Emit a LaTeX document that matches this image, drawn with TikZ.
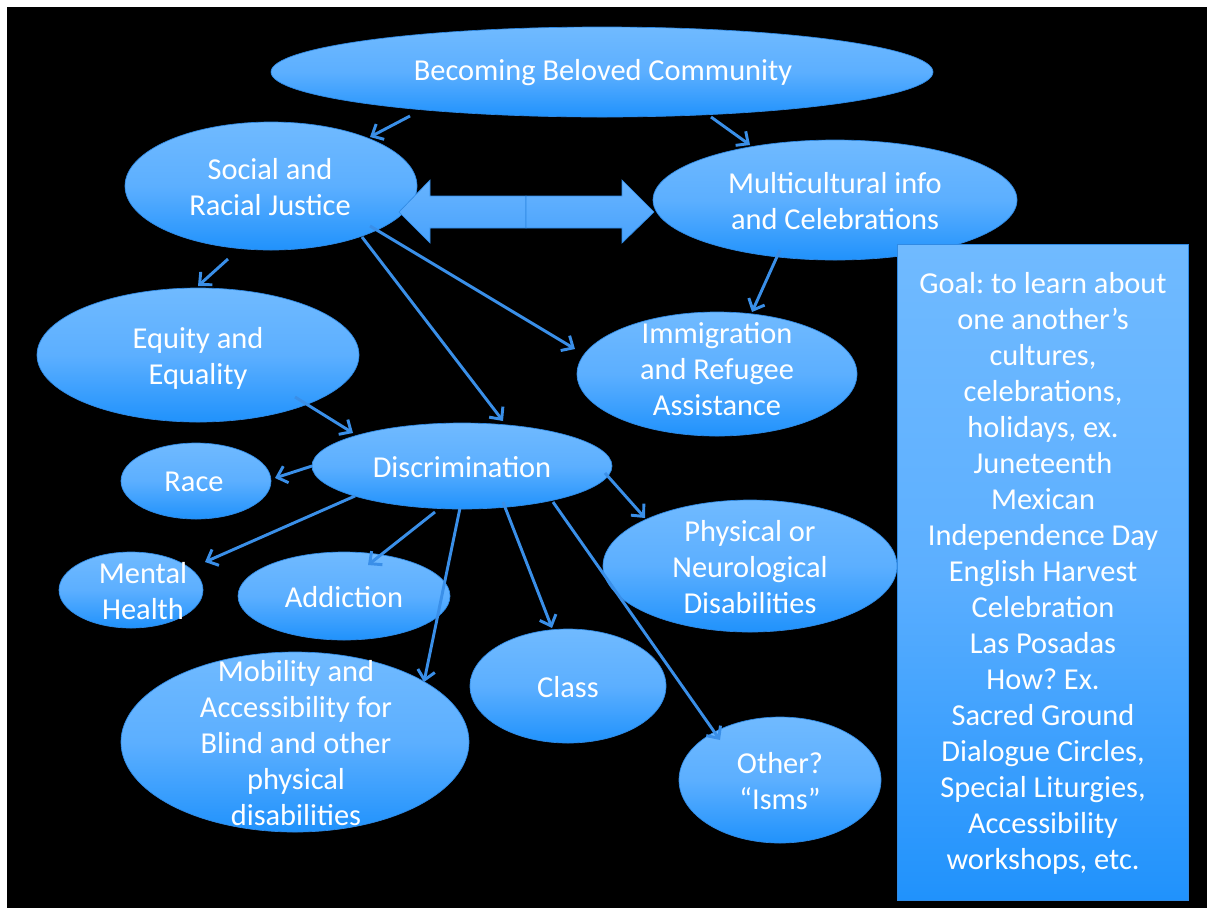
\documentclass[tikz,border=0pt]{standalone}
\usepackage{fontspec}
\setmainfont{Carlito}
\frenchspacing
\usetikzlibrary{arrows.meta,calc,shapes.geometric}
\definecolor{ltop}{RGB}{112,186,255}
\definecolor{lmid}{RGB}{92,175,255}
\definecolor{lbot}{RGB}{32,146,252}
\definecolor{edgeblue}{RGB}{48,138,228}
\definecolor{conncol}{RGB}{58,143,232}
\definecolor{atop}{RGB}{104,180,255}
\definecolor{abot}{RGB}{72,162,252}
\begin{document}
\begin{tikzpicture}[x=0.75pt,y=-0.75pt,
  ell/.style 2 args={ellipse, inner sep=0pt, draw=edgeblue, line width=0.5pt,
    top color=ltop, bottom color=lbot, middle color=lmid,
    minimum width=#1*1.5pt, minimum height=#2*1.5pt},
  txt/.style={text=white, align=center, inner sep=0pt,
    font=\fontsize{22.8}{27}\selectfont},
  conn/.style={draw=conncol, line width=2.2pt,
    -{Straight Barb[length=7pt,width=13pt]}},
  blockarrow/.style={draw=edgeblue, line width=0.5pt, top color=atop, bottom color=abot},
  goalbox/.style={rectangle, inner sep=0pt, draw=edgeblue, line width=0.5pt,
    top color=ltop, bottom color=lbot, middle color=lmid}
]
\useasboundingbox (0,0) rectangle (1209,911);
\fill[white] (0,0) rectangle (1209,911);
\fill[black] (7,7) rectangle (1207,908);

% ellipses
\node[ell={331}{45}] (bbc) at (602,72) {};
\node[ell={146}{64}] (srj) at (271,186) {};
\node[ell={182}{60}] (mci) at (835,200) {};
\node[ell={161}{67}] (eqe) at (198,355) {};
\node[ell={140}{62}] (irf) at (717,374) {};
\node[ell={150}{43}] (dis) at (462,466) {};
\node[ell={75}{38}] (race) at (196,481) {};
\node[ell={72}{38}] (mh) at (131,590) {};
\node[ell={106}{44}] (add) at (344,596) {};
\node[ell={147}{66}] (pnd) at (750,566) {};
\node[ell={98}{57}] (cls) at (568,686) {};
\node[ell={174}{90}] (mob) at (295,742) {};
\node[ell={101}{63}] (oth) at (780,780) {};

% goal box
\node[goalbox, minimum width=291*0.75pt, minimum height=656*0.75pt] (goal) at (1042.5,572) {};

% double block arrow between the two upper ellipses
\path[blockarrow] (399,212) -- (430,180) -- (430,196) -- (526,196) -- (526,228) -- (430,228) -- (430,243) -- cycle;
\path[blockarrow] (526,196) -- (622,196) -- (622,180) -- (654,212) -- (622,243) -- (622,228) -- (526,228) -- cycle;

% connectors
\draw[conn] ($(bbc.center)+(-192,44)$) -- ($(srj.center)+(99,-49)$);
\draw[conn] ($(bbc.center)+(109,45)$) -- ($(mci.center)+(-85,-55)$);
\draw[conn] ($(srj.center)+(-43,73)$) -- ($(eqe.center)+(0,-69)$);
\draw[conn] ($(srj.center)+(91,51)$) -- ($(dis.center)+(41,-45)$);
\draw[conn] ($(srj.center)+(99,40)$) -- ($(irf.center)+(-142,-25)$);
\draw[conn] ($(mci.center)+(-55,50)$) -- ($(irf.center)+(35,-62)$);
\draw[conn] ($(eqe.center)+(97,42)$) -- ($(dis.center)+(-109,-33)$);
\draw[conn] ($(dis.center)+(-150,0)$) -- ($(race.center)+(79,-3)$);
\draw[conn] ($(dis.center)+(-107,30)$) -- ($(mh.center)+(74,-28)$);
\draw[conn] ($(dis.center)+(-27,46)$) -- ($(add.center)+(24,-31)$);
\draw[conn] ($(dis.center)+(-2,42)$) -- ($(mob.center)+(129,-60)$);
\draw[conn] ($(dis.center)+(41,36)$) -- ($(cls.center)+(-16,-58)$);
\draw[conn] ($(dis.center)+(91,36)$) -- ($(oth.center)+(-60,-40)$);
\draw[conn] ($(dis.center)+(143,7)$) -- ($(pnd.center)+(-105,-48)$);

% texts
\node[txt] (bbc-t) at (603,73) {Becoming Beloved Community};
\node[txt] (srj-t) at (270,187) {Social and\\Racial Justice};
\node[txt] (mci-t) at (835,201) {Multicultural info\\and Celebrations};
\node[txt] (eqe-t) at (198,358) {Equity and\\Equality};
\node[txt] (irf-t) at (717,369) {Immigration\\and Refugee\\Assistance};
\node[txt] (dis-t) at (462,467) {Discrimination};
\node[txt] (race-t) at (194,482) {Race};
\node[txt] (mh-t) at (143,591) {Mental\\Health};
\node[txt] (add-t) at (344,597) {Addiction};
\node[txt] (pnd-t) at (750,567) {Physical or\\Neurological\\Disabilities};
\node[txt] (cls-t) at (568,687) {Class};
\node[txt] (mob-t) at (296,743) {Mobility and\\Accessibility for\\Blind and other\\physical\\disabilities};
\node[txt] (oth-t) at (780,781) {Other?\\“Isms”};
\node[txt] (goal-t) at (1043,573) {Goal: to learn about\\one another’s\\cultures,\\celebrations,\\holidays, ex.\\Juneteenth\\Mexican\\Independence Day\\English Harvest\\Celebration\\Las Posadas\\How? Ex.\\Sacred Ground\\Dialogue Circles,\\Special Liturgies,\\Accessibility\\workshops, etc.};
\end{tikzpicture}
\end{document}
